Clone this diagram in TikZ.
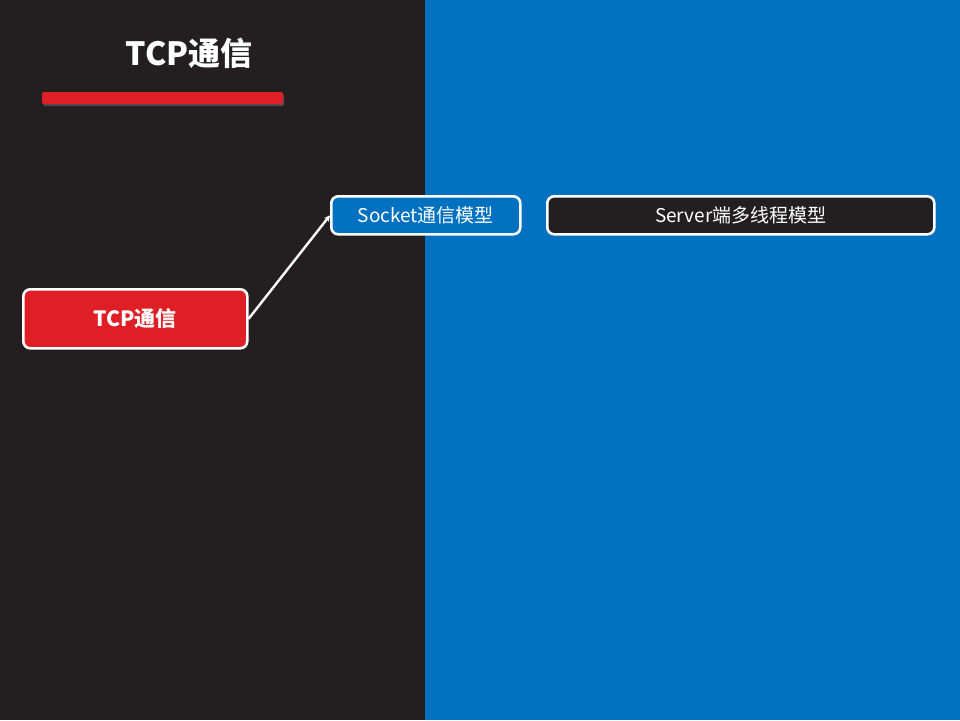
\documentclass[tikz,border=0pt]{standalone}
\usepackage{fontspec}
\setmainfont{Noto Sans CJK SC}
\usetikzlibrary{arrows.meta,shadows}
\definecolor{darkbg}{HTML}{231F20}
\definecolor{bluebg}{HTML}{0070C0}
\definecolor{redfill}{HTML}{DF1F26}
\tikzset{
  box/.style={draw=white, line width=2.6pt, rounded corners=7pt, text=white, inner sep=0pt, anchor=north west},
  link/.style={draw=white, line width=2.4pt, -{Stealth[length=6pt,width=6pt]}}
}
\begin{document}
\begin{tikzpicture}[x=1pt,y=-1pt]
  % background panels
  \fill[darkbg] (0,0) rectangle (425,720);
  \fill[bluebg] (425,0) rectangle (960,720);
  \useasboundingbox (0,0) rectangle (960,720);
  % heading and underline bar
  \node[text=white, font=\fontsize{32}{38}\selectfont\bfseries] (title) at (189,53) {TCP通信};
  \fill[redfill, rounded corners=2pt, drop shadow={shadow xshift=1pt, shadow yshift=-2pt, opacity=0.45}] (42,92) rectangle (283,104);
  % nodes
  \node[box, fill=redfill, minimum width=224pt, minimum height=59pt, font=\fontsize{21}{25}\selectfont\bfseries] (root) at (22,288) {TCP通信};
  \node[box, fill=bluebg, minimum width=189pt, minimum height=38pt, font=\fontsize{19}{23}\selectfont] (sock) at (330,195) {Socket通信模型};
  \node[box, fill=darkbg, minimum width=387pt, minimum height=38pt, font=\fontsize{19}{23}\selectfont] (serv) at (546,195) {Server端多线程模型};
  % connector
  \draw[link] (root.east) -- (sock.west);
\end{tikzpicture}
\end{document}
